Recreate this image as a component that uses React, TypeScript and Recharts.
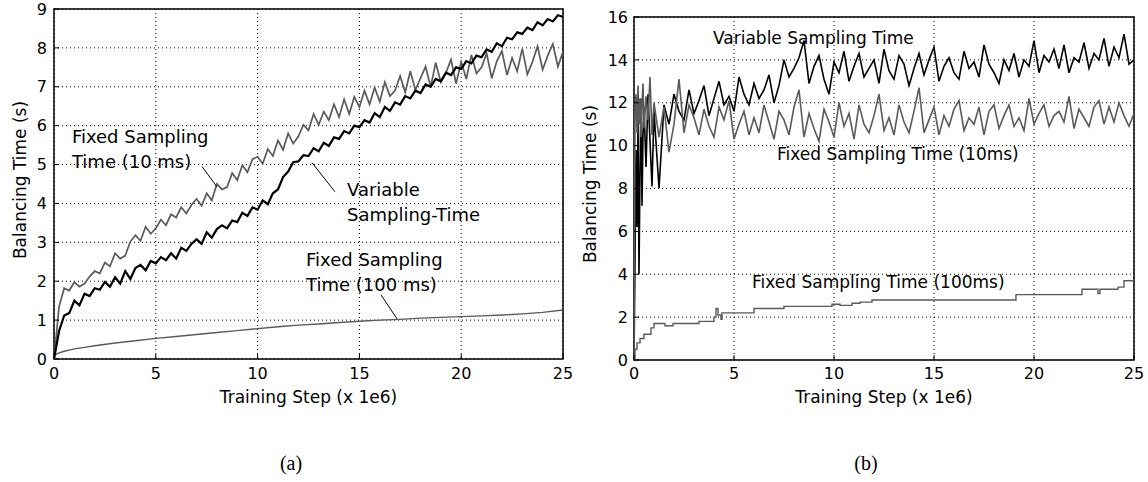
import React from 'react';
import {
  LineChart,
  Line,
  XAxis,
  YAxis,
  CartesianGrid,
  ReferenceArea,
  ReferenceDot,
  ReferenceLine,
  Label,
} from 'recharts';

const FONT = '"DejaVu Sans", Verdana, sans-serif';
const GRAY = '#5a5a5a';

// (a) training step (x 1e6)
const leftSteps = [
  0, 0.25, 0.5, 0.75, 1, 1.25, 1.5, 1.75, 2, 2.25,
  2.5, 2.75, 3, 3.25, 3.5, 3.75, 4, 4.25, 4.5, 4.75,
  5, 5.25, 5.5, 5.75, 6, 6.25, 6.5, 6.75, 7, 7.25,
  7.5, 7.75, 8, 8.25, 8.5, 8.75, 9, 9.25, 9.5, 9.75,
  10, 10.25, 10.5, 10.75, 11, 11.25, 11.5, 11.75, 12, 12.25,
  12.5, 12.75, 13, 13.25, 13.5, 13.75, 14, 14.25, 14.5, 14.75,
  15, 15.25, 15.5, 15.75, 16, 16.25, 16.5, 16.75, 17, 17.25,
  17.5, 17.75, 18, 18.25, 18.5, 18.75, 19, 19.25, 19.5, 19.75,
  20, 20.25, 20.5, 20.75, 21, 21.25, 21.5, 21.75, 22, 22.25,
  22.5, 22.75, 23, 23.25, 23.5, 23.75, 24, 24.25, 24.5, 24.75,
  25,
];

// fixed sampling time 10 ms, balancing time (s)
const leftFixed10 = [
  0, 1.35, 1.82, 1.76, 1.98, 1.86, 1.94, 2.12, 2.26, 2.2,
  2.48, 2.38, 2.72, 2.58, 2.66, 3.02, 3.18, 3.04, 3.4, 3.22,
  3.36, 3.58, 3.44, 3.72, 3.64, 3.9, 3.74, 3.96, 4.12, 3.94,
  4.26, 4.08, 4.5, 4.36, 4.42, 4.78, 4.6, 4.98, 4.8, 5.14,
  5.2, 5.02, 5.4, 5.22, 5.62, 5.38, 5.8, 5.54, 5.72, 6.02,
  5.88, 6.3, 6.02, 6.36, 6.14, 6.55, 6.22, 6.68, 6.3, 6.74,
  6.48, 6.9, 6.55, 6.98, 6.62, 7.12, 6.76, 6.9, 7.28, 6.86,
  7.4, 6.92, 7.22, 7.52, 7.0, 7.62, 7.12, 7.36, 7.7, 7.08,
  7.64, 7.2, 7.82, 7.34, 7.5, 7.86, 7.22, 7.66, 7.92, 7.3,
  7.74, 7.4, 7.98, 7.32, 7.64, 8.04, 7.44, 7.8, 8.1, 7.52,
  7.9,
];

// variable sampling time
const leftVariable = [
  0, 0.72, 1.12, 1.18, 1.5, 1.38, 1.68, 1.62, 1.82, 1.78,
  1.98, 1.86, 2.1, 1.94, 2.26, 2.06, 2.34, 2.42, 2.28, 2.52,
  2.46, 2.62, 2.54, 2.72, 2.58, 2.86, 2.78, 2.96, 3.08, 2.96,
  3.26, 3.12, 3.34, 3.44, 3.36, 3.56, 3.52, 3.76, 3.68, 3.9,
  3.84, 4.08, 3.98, 4.26, 4.36, 4.68, 4.82, 5.06, 5.08, 5.24,
  5.22, 5.42, 5.34, 5.56, 5.48, 5.7, 5.66, 5.86, 5.8, 6.0,
  5.96, 6.14, 6.08, 6.32, 6.22, 6.48, 6.38, 6.6, 6.54, 6.76,
  6.7, 6.9, 6.84, 7.06, 7.0, 7.2, 7.14, 7.36, 7.3, 7.5,
  7.46, 7.66, 7.6, 7.8, 7.76, 7.96, 7.9, 8.12, 8.04, 8.26,
  8.22, 8.4, 8.36, 8.52, 8.46, 8.66, 8.58, 8.74, 8.68, 8.84,
  8.8,
];

// fixed sampling time 100 ms (smooth curve)
const leftFixed100Steps = [
  0, 0.1, 0.25, 0.5, 1, 1.5, 2, 3, 4, 5, 6, 7, 8, 9, 10,
  11, 12, 13, 14, 15, 16, 17, 18, 19, 20, 21, 22, 23, 24, 25,
];
const leftFixed100 = [
  0.08, 0.12, 0.16, 0.2, 0.26, 0.3, 0.34, 0.41, 0.47, 0.53, 0.58, 0.63, 0.68, 0.73, 0.78,
  0.83, 0.87, 0.9, 0.94, 0.97, 1.0, 1.02, 1.05, 1.07, 1.09, 1.11, 1.13, 1.16, 1.2, 1.26,
];

// (b) training step (x 1e6)
const rightSteps = [
  0, 0.05, 0.1, 0.15, 0.2, 0.25, 0.3, 0.35, 0.4, 0.45, 0.5, 0.6, 0.7, 0.8, 0.9, 1.0,
  1.25, 1.5, 1.75, 2, 2.25, 2.5, 2.75, 3, 3.25, 3.5,
  3.75, 4, 4.25, 4.5, 4.75, 5, 5.25, 5.5, 5.75, 6,
  6.25, 6.5, 6.75, 7, 7.25, 7.5, 7.75, 8, 8.25, 8.5,
  8.75, 9, 9.25, 9.5, 9.75, 10, 10.25, 10.5, 10.75, 11,
  11.25, 11.5, 11.75, 12, 12.25, 12.5, 12.75, 13, 13.25, 13.5,
  13.75, 14, 14.25, 14.5, 14.75, 15, 15.25, 15.5, 15.75, 16,
  16.25, 16.5, 16.75, 17, 17.25, 17.5, 17.75, 18, 18.25, 18.5,
  18.75, 19, 19.25, 19.5, 19.75, 20, 20.25, 20.5, 20.75, 21,
  21.25, 21.5, 21.75, 22, 22.25, 22.5, 22.75, 23, 23.25, 23.5,
  23.75, 24, 24.25, 24.5, 24.75, 25,
];

const rightVariable = [
  0, 4.5, 9.8, 6.2, 11.2, 4.0, 8.8, 12.2, 7.2, 10.5, 11.8, 9.0, 12.4, 10.2, 8.1, 11.6,
  8.0, 11.9, 11.0, 12.4, 11.6, 11.2, 12.6, 11.5, 12.1, 12.8,
  11.4, 12.2, 13.0, 11.9, 12.3, 11.6, 13.2, 12.4, 11.9, 12.9,
  12.2, 12.6, 13.3, 12.0, 12.8, 14.0, 13.2, 13.6, 14.1, 14.9,
  12.9, 13.7, 14.2, 13.1, 12.4, 13.9, 13.4, 14.4, 13.0, 13.7,
  14.3, 13.2, 13.6, 14.0, 12.9, 14.5, 13.5, 13.1, 14.2, 13.8,
  12.8, 13.6, 14.3, 13.3, 14.0, 14.6, 13.0, 13.7, 14.1, 13.4,
  13.1, 14.4, 13.6, 13.9, 13.2, 14.7, 13.8, 13.4, 12.9, 14.0,
  13.5, 14.3, 13.2, 14.0, 13.7, 14.9, 13.4, 14.2, 13.9, 14.5,
  13.6, 14.7, 13.4, 14.1, 13.9, 14.8, 13.6, 14.3, 14.0, 15.0,
  13.7, 14.6, 14.1, 15.2, 13.8, 14.0,
];

const rightFixed10 = [
  0, 11.5, 12.4, 10.6, 12.8, 11.0, 12.2, 10.4, 11.9, 12.9, 10.8, 12.3, 11.2, 13.2, 10.5, 12.0,
  10.4, 11.8, 9.7, 11.0, 13.1, 10.6, 11.9, 11.3, 10.5, 11.7,
  10.9, 10.4, 11.8, 11.2, 12.1, 10.3, 11.0, 11.6, 10.5, 11.3,
  10.6, 11.9, 11.1, 10.3, 11.6, 11.2, 10.5, 11.8, 12.6, 10.4,
  11.5, 10.8, 10.2, 11.7, 11.1, 10.4, 12.0, 10.9, 11.5, 10.3,
  11.9, 11.0, 10.6, 11.4, 12.4, 10.7, 11.3, 10.5, 11.9, 11.1,
  10.6, 11.6, 12.7, 10.6, 11.2, 11.8, 10.5, 11.4, 10.9, 11.7,
  12.1, 10.7, 11.3, 11.0, 11.8, 10.5, 11.6, 11.9, 10.8, 11.4,
  11.9, 10.9, 11.3, 10.7, 12.2, 11.0, 11.5, 11.9, 10.9, 11.4,
  11.6, 11.1, 12.3, 10.8, 11.7, 11.3, 10.9, 11.8, 12.1, 11.0,
  11.8, 11.1, 12.0, 11.4, 10.9, 11.5,
];

// fixed sampling time 100 ms, step changes
const rightFixed100Steps = [
  0, 0.05, 0.15, 0.3, 0.5, 0.85, 1.0, 1.55, 1.95, 3.25,
  4.0, 4.1, 4.2, 4.35, 4.4, 6.0, 7.5, 9.9, 10.3, 10.9,
  11.3, 11.9, 19.1, 22.4, 23.2, 23.3, 24.2, 24.5, 25,
];
const rightFixed100 = [
  0, 0.5, 0.8, 1.0, 1.2, 1.5, 1.7, 1.6, 1.7, 1.8,
  2.0, 2.4, 2.1, 1.9, 2.2, 2.4, 2.5, 2.6, 2.55, 2.65,
  2.7, 2.8, 3.05, 3.3, 3.1, 3.3, 3.4, 3.7, 3.7,
];

const xTicks = [0, 5, 10, 15, 20, 25];
const leftYTicks = [0, 1, 2, 3, 4, 5, 6, 7, 8, 9];
const rightYTicks = [0, 2, 4, 6, 8, 10, 12, 14, 16];

const toPoints = (xs: number[], ys: number[]) => xs.map((x, i) => ({ x, v: ys[i] }));

const tickStyle = { fill: '#000', fontSize: 16, fontFamily: FONT };

const note = (x: number, y: number, text: string, size: number) => (
  <ReferenceDot
    key={`${text}-${x}-${y}`}
    x={x}
    y={y}
    r={0}
    fill="none"
    stroke="none"
    ifOverflow="visible"
    label={{ value: text, position: 'right', offset: 0, fill: '#000', fontSize: size, fontFamily: FONT }}
  />
);

const leader = (x1: number, y1: number, x2: number, y2: number) => (
  <ReferenceLine
    key={`l-${x1}-${y1}`}
    segment={[{ x: x1, y: y1 }, { x: x2, y: y2 }]}
    stroke="#000"
    strokeWidth={1}
    ifOverflow="visible"
  />
);

const yTitle = (cx: number, cy: number) => (
  <Label
    content={() => (
      <text
        x={cx}
        y={cy}
        transform={`rotate(-90 ${cx} ${cy})`}
        textAnchor="middle"
        dominantBaseline="central"
        fill="#000"
        fontSize={17}
        fontFamily={FONT}
      >
        Balancing Time (s)
      </text>
    )}
  />
);

const xTitle = (cx: number, by: number) => (
  <Label
    content={() => (
      <text x={cx} y={by} textAnchor="middle" fill="#000" fontSize={17} fontFamily={FONT}>
        Training Step (x 1e6)
      </text>
    )}
  />
);

const LeftChart = () => (
  <LineChart width={580} height={420} margin={{ top: 9, right: 17, left: 0, bottom: 0 }}>
    <CartesianGrid stroke="#000" strokeDasharray="1 3" />
    <XAxis
      dataKey="x"
      type="number"
      domain={[0, 25]}
      ticks={xTicks}
      height={61}
      axisLine={false}
      tickSize={-5}
      tickMargin={14}
      tickLine={{ stroke: '#000' }}
      tick={tickStyle}
      allowDataOverflow
    >
      {xTitle(308.5, 403)}
    </XAxis>
    <XAxis xAxisId="top" orientation="top" type="number" domain={[0, 25]} ticks={xTicks} height={0}
      axisLine={false} tick={false} tickSize={-5} tickLine={{ stroke: '#000' }} />
    <YAxis
      type="number"
      domain={[0, 9]}
      ticks={leftYTicks}
      width={54}
      axisLine={false}
      tickSize={-5}
      tickMargin={12}
      tickLine={{ stroke: '#000' }}
      tick={tickStyle}
      allowDataOverflow
    >
      {yTitle(20, 180)}
    </YAxis>
    <YAxis yAxisId="right" orientation="right" type="number" domain={[0, 9]} ticks={leftYTicks} width={0}
      axisLine={false} tick={false} tickSize={-5} tickLine={{ stroke: '#000' }} />
    <Line data={toPoints(leftFixed100Steps, leftFixed100)} dataKey="v" type="linear" stroke={GRAY}
      strokeWidth={1.4} dot={false} isAnimationActive={false} />
    <Line data={toPoints(leftSteps, leftFixed10)} dataKey="v" type="linear" stroke={GRAY}
      strokeWidth={1.7} dot={false} isAnimationActive={false} />
    <Line data={toPoints(leftSteps, leftVariable)} dataKey="v" type="linear" stroke="#000"
      strokeWidth={2.2} dot={false} isAnimationActive={false} />
    <ReferenceArea x1={0} x2={25} y1={0} y2={9} fill="none" stroke="#000" strokeWidth={1.5} ifOverflow="visible" />
    {note(0.88, 5.72, 'Fixed Sampling', 18)}
    {note(0.88, 5.08, 'Time (10 ms)', 18)}
    {leader(7.27, 4.95, 8.0, 4.43)}
    {note(14.39, 4.36, 'Variable', 18)}
    {note(14.39, 3.71, 'Sampling-Time', 18)}
    {leader(13.8, 4.3, 12.67, 5.05)}
    {note(12.38, 2.55, 'Fixed Sampling', 18)}
    {note(12.38, 1.91, 'Time (100 ms)', 18)}
    {leader(16.06, 1.65, 16.85, 1.03)}
  </LineChart>
);

const RightChart = () => (
  <LineChart width={578} height={420} margin={{ top: 17, right: 14, left: 0, bottom: 0 }}>
    <CartesianGrid stroke="#000" strokeDasharray="1 3" />
    <XAxis
      dataKey="x"
      type="number"
      domain={[0, 25]}
      ticks={xTicks}
      height={60}
      axisLine={false}
      tickSize={-5}
      tickMargin={13}
      tickLine={{ stroke: '#000' }}
      tick={tickStyle}
      allowDataOverflow
    >
      {xTitle(314, 403)}
    </XAxis>
    <XAxis xAxisId="top" orientation="top" type="number" domain={[0, 25]} ticks={xTicks} height={0}
      axisLine={false} tick={false} tickSize={-5} tickLine={{ stroke: '#000' }} />
    <YAxis
      type="number"
      domain={[0, 16]}
      ticks={rightYTicks}
      width={64}
      axisLine={false}
      tickSize={-5}
      tickMargin={11}
      tickLine={{ stroke: '#000' }}
      tick={tickStyle}
      allowDataOverflow
    >
      {yTitle(20, 184)}
    </YAxis>
    <YAxis yAxisId="right" orientation="right" type="number" domain={[0, 16]} ticks={rightYTicks} width={0}
      axisLine={false} tick={false} tickSize={-5} tickLine={{ stroke: '#000' }} />
    <Line data={toPoints(rightSteps, rightVariable)} dataKey="v" type="linear" stroke="#000"
      strokeWidth={1.6} dot={false} isAnimationActive={false} />
    <Line data={toPoints(rightSteps, rightFixed10)} dataKey="v" type="linear" stroke={GRAY}
      strokeWidth={1.6} dot={false} isAnimationActive={false} />
    <Line data={toPoints(rightFixed100Steps, rightFixed100)} dataKey="v" type="stepAfter" stroke={GRAY}
      strokeWidth={1.4} dot={false} isAnimationActive={false} />
    <ReferenceArea x1={0} x2={25} y1={0} y2={16} fill="none" stroke="#000" strokeWidth={1.5} ifOverflow="visible" />
    {note(3.95, 15.0, 'Variable Sampling Time', 17)}
    {note(7.15, 9.63, 'Fixed Sampling Time (10ms)', 17)}
    {note(5.9, 3.63, 'Fixed Sampling Time (100ms)', 17)}
  </LineChart>
);

const captionStyle: React.CSSProperties = {
  position: 'absolute',
  top: 451,
  width: 60,
  textAlign: 'center',
  fontFamily: '"Liberation Serif", "Times New Roman", serif',
  fontSize: 20,
  lineHeight: '24px',
  color: '#000',
};

export default function App() {
  return (
    <div style={{ position: 'absolute', left: 0, top: 0, width: 1148, height: 482, background: '#fff' }}>
      <div style={{ position: 'absolute', left: 0, top: 0 }}>
        <LeftChart />
      </div>
      <div style={{ position: 'absolute', left: 570, top: 0 }}>
        <RightChart />
      </div>
      <div style={{ ...captionStyle, left: 261 }}>(a)</div>
      <div style={{ ...captionStyle, left: 836 }}>(b)</div>
    </div>
  );
}
